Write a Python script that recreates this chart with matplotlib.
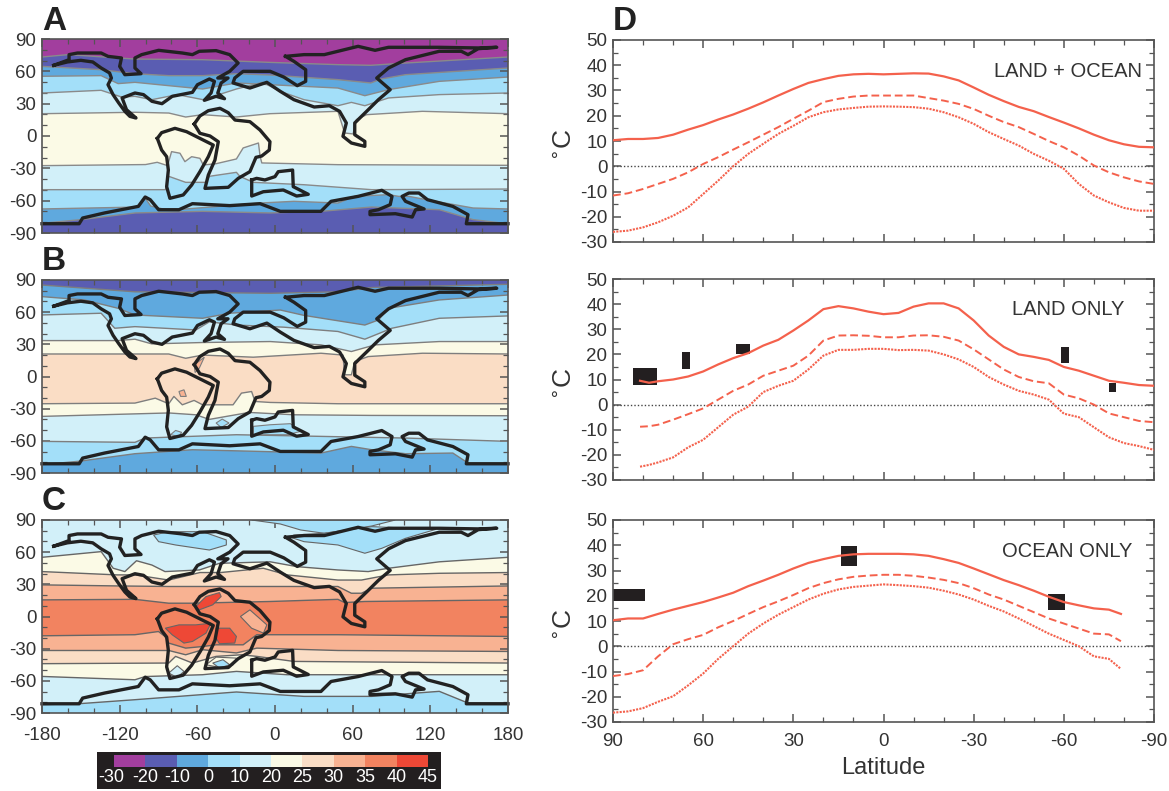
import matplotlib
matplotlib.use("Agg")
import matplotlib.pyplot as plt
from matplotlib.patches import Polygon, Rectangle
from matplotlib.ticker import MultipleLocator

plt.rcParams['font.family'] = ['Liberation Sans', 'DejaVu Sans']
plt.rcParams['axes.unicode_minus'] = False

W, H = 1169, 791

# band colours, same as the colour bar
purple = '#A23E9E'
indigo = '#5A5DB2'
blue = '#5FA9DE'
ltblue = '#A3DFF9'
pale = '#D2F0F9'
cream = '#FBFAE6'
peach = '#FADDC5'
salmon = '#F8B292'
orange = '#F28360'
red = '#EE4836'

bar_colors = [purple, indigo, blue, ltblue, pale, cream, peach, salmon, orange, red]
bar_labels = ['-30', '-20', '-10', '0', '10', '20', '25', '30', '35', '40', '45']

# coastlines (lon, lat)
coast_laurasia_w = [(-170.9, 65.6), (-160.4, 68.7), (-150, 70.2), (-140.8, 68.7), (-134.3, 63.1), (-127.8, 58.5),
                    (-126.4, 53.8), (-129, 47.6), (-125.1, 38.4), (-120.7, 30.6), (-116, 22.9), (-112.1, 18.2),
                    (-107.4, 16.7), (-114.7, 24.4), (-118.1, 35.3), (-108.2, 39.9), (-101.6, 38.4), (-95.1, 32.2),
                    (-87.3, 30), (-79.4, 36.8), (-63.8, 40.5), (-59.9, 47.6), (-50.7, 52.9), (-46.8, 50.7),
                    (-49.4, 39.9), (-54.6, 33.1), (-45.5, 36.8), (-39, 34.6), (-44.2, 39.9), (-41.6, 49.2),
                    (-36.3, 53.8), (-44.2, 53.8), (-35, 60), (-28.5, 67.7), (-35, 75.5), (-45.5, 79.2),
                    (-58.5, 78.6), (-63.8, 75.5), (-71.6, 77), (-89.9, 79.5), (-103, 75.5), (-108.2, 72.4),
                    (-108.2, 63.1), (-103.5, 57.8), (-116, 56.9), (-120, 64.6), (-118.6, 72.4), (-129, 73.9),
                    (-134.3, 77), (-152.6, 77), (-159.1, 75.5), (-159.1, 70.8), (-170.9, 65.6)]
coast_eurasia = [(8.1, 73.9), (14.6, 69.3), (23.7, 61.5), (23.7, 50.7), (17.2, 46.7), (6.8, 54.7), (-3.7, 60),
                 (-24.6, 60), (-31.1, 53.8), (-32.4, 49.2), (-19.4, 44.5), (-6.3, 49.8), (4.1, 41.4), (14.6, 33.7),
                 (30.3, 26.9), (42, 28.1), (49.9, 22.9), (55.1, 12.1), (52.5, -0.3), (59, -6.5), (69.4, -9.6),
                 (69.4, -5), (61.6, 1.2), (61.6, 12.1), (70.8, 22.9), (79.9, 33.7), (89, 43), (78.6, 53.8),
                 (87.7, 63.1), (100.8, 70.8), (126.9, 78.6), (143.9, 78.6), (149.1, 75.5), (157, 81), (171.3, 82.3),
                 (157, 81.7), (126.9, 82.3), (87.7, 82.3), (77.3, 79.5), (64.2, 83.2), (38.1, 75.5), (22.4, 75.5),
                 (8.1, 73.9)]
coast_samerica = [(-90.9, -2.2), (-87.6, 3.1), (-77.3, 7.1), (-68.3, 4), (-58, -2.2), (-47.7, -8.4), (-51.5, -19.2),
                  (-58, -33.1), (-64.4, -45.5), (-70.9, -54.7), (-81.2, -57.8), (-83.7, -47), (-82.4, -31.6),
                  (-83.7, -19.2), (-87.6, -13), (-90.9, -2.2)]
coast_africa = [(-62.4, 11.1), (-58, 18.6), (-51.5, 23.5), (-42.5, 25.7), (-36.1, 21.6), (-30.9, 14.8), (-19.4, 13.3),
                (-11.6, 5.6), (-3.9, -5.3), (-4.4, -13), (-10.3, -18.6), (-14.7, -19.8), (-19.4, -33.1), (-28.4, -39.3),
                (-36.1, -47.6), (-54.1, -48.6), (-51.5, -36.2), (-46.4, -22.3), (-43.8, -5.3), (-50.2, 0), (-58, 2.5),
                (-62.4, 11.1)]
coast_island = [(-18, -40.8), (-14.2, -39.3), (-7.8, -40.8), (0, -37.7), (2.5, -33.1), (13.6, -31.6), (14.1, -47),
                (25.7, -54.1), (16.7, -55.7), (6.4, -50.1), (-9, -51.7), (-18, -55.7), (-18, -40.8)]
coast_south = [(-180, -81.4), (-151.3, -81.4), (-148.6, -76.1), (-131.7, -71.4), (-105.6, -65.3), (-100.3, -56.6),
               (-96.4, -59.1), (-89.9, -68.4), (-74.2, -68.4), (-63.8, -62.8), (-35, -64.6), (-11.5, -62.8),
               (4.1, -69.9), (35.5, -69.9), (43.3, -60.6), (64.2, -56), (82.5, -50.4), (90.4, -56), (89, -63.7),
               (79.9, -68.4), (73.4, -69.9), (73.4, -73), (93, -72.1), (106, -75.2), (108.6, -68.4), (115.2, -67.7),
               (100.8, -60.6), (98.2, -56), (103.4, -52.9), (111.2, -52.9), (117.8, -59.1), (137.4, -65.3),
               (149.1, -73), (147.8, -81.4), (180, -81.4)]
coasts = [coast_laurasia_w, coast_eurasia, coast_samerica, coast_africa, coast_island, coast_south]

# panel A isotherms, south to north
a_c9 = [(-180, -81), (-150, -77.6), (-108, -71.4), (-56, -69.9), (-4, -71.4), (35.5, -69.9), (74.7, -65.9),
        (127, -68.4), (153, -77.6), (180, -81.4)]
a_c8 = [(-180, -67.7), (-105, -65.9), (-100.3, -57.5), (-96, -65), (-82.1, -69), (-11.5, -62.2), (14.6, -60.6),
        (48.6, -62.2), (61.6, -56), (87.7, -54.4), (95.5, -56), (103.4, -56), (116.5, -59), (153, -66.8), (180, -67.7)]
a_c7 = [(-180, -49.8), (-84.7, -49.8), (-82.1, -37.4), (-69, -43), (-53.3, -43), (-50.7, -37.4), (-29.8, -33.7),
        (-27.2, -37.4), (-16.8, -43), (22.4, -45.2), (74.7, -49.8), (180, -49.2)]
a_c6 = [(-180, -27.5), (-100, -26.5), (-91, -24.4), (-83, -27.5), (-79.9, -14.5), (-73.4, -16), (-69.6, -23.8),
        (-64.4, -19.2), (-58, -20.7), (-55.4, -26.9), (-45.5, -25.7), (-29.8, -21.3), (-24.6, -11.1), (-12.8, -6.5),
        (-11.5, -18.9), (-10.2, -25), (48.6, -26.6), (180, -27.2)]
a_c5 = [(-180, 20.7), (-108, 22), (-82, 21.3), (-69, 17.6), (-56, 19.8), (-30, 17.6), (-4, 20.7), (48.6, 22.9),
        (53.8, 2.8), (60.3, 1.9), (62.9, 15.2), (70.8, 19.8), (113.9, 22.9), (180, 20.7)]
a_c4 = [(-180, 39.9), (-134.3, 42.4), (-118.6, 36.2), (-108.2, 36.8), (-95.1, 33.7), (-75.5, 38.4), (-55.6, 33.7),
        (-29.8, 43.6), (-9.6, 49.8), (4.1, 41.4), (22.4, 33.7), (48.6, 28.1), (59, 31.2), (69.4, 28.1), (87.7, 35.3),
        (126.9, 38.4), (180, 39.9)]
a_c3 = [(-180, 55.4), (-134.3, 56), (-121.2, 48.6), (-108.2, 49.8), (-82.1, 46.7), (-55.9, 43.6), (-29.8, 49.2),
        (-3.7, 47.6), (48.6, 44.5), (69.4, 37.4), (87.7, 43), (126.9, 50.7), (180, 54.7)]
a_c2 = [(-180, 64.6), (-134.3, 61.5), (-108.2, 57.8), (-82.1, 56), (-55.9, 56), (-29.8, 57.8), (-3.7, 56.6),
        (48.6, 52.3), (74, 49.2), (82, 52.9), (100.8, 56.9), (180, 63.1)]
a_c1 = [(-180, 73.3), (-160, 75.5), (-108.2, 71.4), (-55.9, 70.8), (-3.7, 68.3), (48.6, 66.2), (74, 65.6),
        (100.8, 67.7), (180, 73.3)]

# panel B isotherms
b_c9 = [(-180, -82.2), (-151, -79), (-108.2, -72), (-63.8, -68.3), (-14, -69.8), (35.5, -71.4), (59, -65.2),
        (74.7, -68.3), (100.8, -72), (137.4, -71.4), (149.1, -80.7), (180, -81)]
b_c8 = [(-180, -60.5), (-108.2, -61.4), (-100.3, -57.4), (-29.8, -54.3), (38, -55.9), (100.8, -57.4), (180, -60.5)]
b_c7 = [(-180, -37.2), (-82.1, -34), (-61.2, -35.7), (-50.7, -40), (-20, -33.5), (14.6, -35.7), (74.7, -36.3),
        (180, -36.6)]
b_c6 = [(-180, -25.4), (-108.2, -24.8), (-92.5, -20.2), (-82.1, -25.4), (-78.1, -18.6), (-71.6, -26.4), (-62.5, -22.3),
        (-55.9, -26.4), (-32.4, -26.4), (-25.9, -15.5), (-18.1, -14), (-15.4, -23.3), (-3.7, -24.2), (48.6, -25.4),
        (180, -25.4)]
b_c5 = [(-180, 21), (-108.2, 21), (-82.1, 21), (-69, 17), (-55.9, 20), (-16.8, 18), (35.5, 21.7), (52.5, 20),
        (53.8, 1.6), (59, 1.6), (61.6, 14), (72, 18.6), (113.9, 21.7), (180, 21)]
b_c4 = [(-180, 33.5), (-121.2, 33.5), (-108.2, 34.8), (-95.1, 30.4), (-55.9, 31.7), (-3.7, 32.6), (35.5, 29.5),
        (59, 23.3), (77.3, 29.5), (126.9, 32.6), (180, 32.6)]
b_c3 = [(-180, 57.4), (-134.3, 59), (-123.8, 45), (-108.2, 46.5), (-61.2, 43.4), (-50.7, 51), (-29.8, 48), (6.8, 46),
        (48.6, 42), (69.4, 34.8), (90.3, 45), (126.9, 54.3), (180, 56.5)]
b_c2 = [(-180, 74.5), (-147.4, 71.4), (-121.2, 63.6), (-108.2, 57.4), (-55.9, 54.3), (-35, 59), (4.1, 62), (22.4, 57),
        (69.4, 48), (79.9, 52.7), (87.7, 63.6), (126.9, 71.4), (180, 76)]
b_c1 = [(-180, 85.3), (-108.2, 79), (-3.7, 77.6), (48.6, 79), (74.7, 83), (180, 86)]

# panel C isotherms
c_c9 = [(-180, -82.2), (-151, -81.3), (-108.2, -77.6), (-29.8, -70.4), (22.4, -74.5), (74.7, -74.5), (126.9, -69.8),
        (149.1, -80.7), (180, -81)]
c_c8 = [(-180, -55.9), (-108.2, -59), (-100.3, -56), (-55.9, -54.3), (-29.8, -51.2), (9.4, -54.3), (180, -54.3)]
c_c7 = [(-180, -44), (-82.1, -43.4), (-76.8, -37.2), (-63.8, -43.4), (-45.5, -37.2), (-25.9, -35.7), (-14.1, -37.2),
        (14.6, -41.9), (180, -43.4)]
c_c6 = [(-180, -31.7), (-82.1, -31.7), (-69, -35.7), (-55.9, -31), (-29.8, -34), (-14.1, -29.5), (48.6, -31.7),
        (180, -32.6)]
c_c5 = [(-180, -18), (-108.2, -17), (-90, -14), (-85, -18.6), (-82.1, -24.8), (-69, -29.5), (-55.9, -28),
        (-45.5, -26.4), (-24.6, -26.4), (-14.1, -17), (48.6, -17), (180, -18.6)]
c_c4 = [(-180, 15.5), (-108.2, 16), (-82.1, 12.4), (-63.8, 12.4), (-3.7, 14), (48.6, 16), (53.8, 13), (69.4, 14),
        (180, 15.5)]
c_c3 = [(-180, 29.5), (-121.2, 28.5), (-82.1, 28), (48.6, 28), (59, 21.7), (66.8, 21.7), (74.7, 26.4), (180, 28.5)]
c_c2 = [(-180, 41.9), (-122, 38.8), (-108.2, 38.8), (-82.1, 34), (-58, 41), (-42, 41), (-9, 45), (9.4, 38.8),
        (48.6, 34), (66.8, 34), (87.7, 38.8), (126.9, 40.3), (180, 41)]
c_c1 = [(-180, 55.2), (-134.3, 60.5), (-125, 45), (-116, 41.9), (-107, 52), (-95.1, 48), (-85, 41.9), (-58.5, 43.4),
        (-42.9, 49.6), (-3.7, 51), (17, 46.5), (48.6, 43.4), (72, 41.9), (87.7, 45), (126.9, 51), (180, 55.2)]

a_contours = [a_c9, a_c8, a_c7, a_c6, a_c5, a_c4, a_c3, a_c2, a_c1]
a_colors = [indigo, blue, ltblue, pale, cream, pale, ltblue, blue, indigo, purple]
b_contours = [b_c9, b_c8, b_c7, b_c6, b_c5, b_c4, b_c3, b_c2, b_c1]
b_colors = [blue, ltblue, pale, cream, peach, cream, pale, ltblue, blue, indigo]
c_contours = [c_c9, c_c8, c_c7, c_c6, c_c5, c_c4, c_c3, c_c2, c_c1]
c_colors = [ltblue, pale, cream, peach, salmon, orange, salmon, peach, cream, pale]

# closed pockets
b_pockets = [
    (salmon, [(-62.5, 10.9), (-54.6, 18), (-58.5, 7.8), (-61.7, 3.7)]),
    (salmon, [(-74.2, -14), (-70.3, -12.4), (-68.5, -18.6), (-72.9, -18.6)]),
    (ltblue, [(-45.5, -43.4), (-40.8, -39.7), (-35.5, -43.4), (-41.6, -47.5)]),
    (ltblue, [(-80.7, -54.3), (-76.8, -50.3), (-72.1, -52.1), (-74.2, -55.9)]),
    (ltblue, [(-16.7, -46.5), (-3.7, -45), (11.9, -44), (19.8, -51.2), (9.4, -54.3), (-16.7, -54.3)]),
]
c_pockets = [
    (ltblue, [(-18.1, 90), (4.1, 86.3), (19.8, 80.7), (38.1, 77.6), (74.7, 84.4), (92.9, 90)]),
    (ltblue, [(12, 73.9), (22.4, 69.8), (48.6, 66.7), (69.4, 59), (82.5, 63.6), (100.8, 72.9), (124.3, 81.3),
              (74.7, 83.8), (38.1, 77.6), (14.6, 76)]),
    (ltblue, [(-93.8, 76), (-82.1, 79.1), (-55.9, 79.1), (-37.6, 71.4), (-37.6, 66.7), (-50.7, 62), (-76.8, 66.7),
              (-89.9, 69.8)]),
    (red, [(-84.7, -10.9), (-74.2, -7.8), (-61.2, -7.8), (-49.4, -6.2), (-53.3, -15.5), (-63.8, -23.3), (-70.3, -24.8),
           (-79.4, -17.1)]),
    (red, [(-61.2, 9.3), (-53.3, 18.6), (-42.9, 22.3), (-41.6, 18.6), (-48.1, 10.9), (-58.5, 6.2)]),
    (red, [(-45.5, -10.9), (-35, -10.9), (-29.8, -18.6), (-31.1, -24.8), (-42.9, -25.4), (-45.5, -20.2)]),
    (salmon, [(-26.7, 0), (-19.4, 6.2), (-6.3, -7.8), (-8.9, -15.5), (-18.1, -10.9)]),
    (cream, [(-53.3, -45), (-45.5, -37.9), (-29.8, -38.8), (-32.4, -45), (-40.2, -48.1)]),
    (ltblue, [(-48.1, -43.4), (-40.2, -40.3), (-35, -45), (-42.9, -48.1)]),
    (pale, [(-82.1, -52.8), (-75.5, -45.9), (-70.3, -51.2), (-75.5, -56.8)]),
]

# zonal temperature curves
lat_all = [90, 85, 80, 75, 70, 65, 60, 55, 50, 45, 40, 35, 30, 25, 20, 15, 10, 5, 0, -5, -10, -15, -20, -25, -30,
           -35, -40, -45, -50, -55, -60, -65, -70, -75, -80, -85, -90]
both_max = [10.3, 10.8, 10.8, 11.2, 12.5, 14.5, 16.3, 18.5, 20.5, 22.8, 25.3, 28, 30.6, 33, 34.5, 35.8, 36.4, 36.6,
            36.4, 36.6, 36.8, 36.7, 35.6, 34, 31.2, 28.3, 25.8, 23.5, 21.8, 19.5, 17.3, 15, 12.5, 10.3, 8.7, 7.7, 7.5]
both_mean = [-11.6, -10.7, -9, -7, -5, -2.4, 0.9, 3.6, 6.6, 9.5, 12.5, 15.5, 18.8, 22, 25.4, 26.7, 27.6, 28, 28, 28,
             28, 27, 26, 24.7, 22.7, 20, 17.5, 15.5, 12.8, 10, 7.5, 4.2, 0.3, -2.4, -4.4, -6, -7]
both_min = [-26, -25.5, -24.2, -22.2, -19.6, -16.3, -11, -5.7, 0, 4.9, 8.9, 12.8, 16, 19.4, 21.4, 22.5, 23.1, 23.6,
            23.7, 23.6, 23.4, 22.8, 21.4, 19.4, 16.8, 13.5, 10.8, 8.2, 4.9, 2.2, -1, -7, -11.6, -14.3, -16.5, -17.6,
            -17.6]

lat_land = [81, 78, 75, 70, 65, 60, 55, 50, 45, 40, 35, 30, 25, 20, 15, 10, 5, 0, -5, -10, -15, -20, -25, -30, -35,
            -40, -45, -50, -55, -60, -65, -70, -75, -80, -85, -90]
land_max = [9.5, 8.7, 9.3, 10, 11.2, 13.2, 16, 18.5, 20.5, 23.5, 25.8, 29.5, 33.5, 38, 39.2, 38.3, 37, 36, 36.5, 39,
            40.3, 40.3, 38.3, 33.5, 27.5, 23, 20, 19, 17.8, 15, 13.5, 11.5, 9.5, 8.7, 7.8, 7.5]
land_mean = [-8.8, -8.6, -8, -6, -3.8, -1.5, 2, 5.5, 8, 11.5, 13.5, 15.5, 19.5, 25.5, 27.5, 27.6, 27.4, 26.8, 26.8,
             27.5, 27.6, 27, 25.5, 22, 18, 14, 11, 9.3, 8.5, 4, 2.5, 0, -3.5, -5, -6.5, -7]
land_min = [-24.7, -24, -23, -21, -17, -14, -9, -4, -0.8, 5, 7.5, 9.5, 14, 19.5, 21.8, 21.8, 22.2, 22.2, 21.7, 21.8,
            21.5, 20, 18, 15, 11, 8, 5.5, 4, 2, -3.6, -5, -9, -13, -15.3, -16.5, -18]

lat_ocean = [90, 85, 80, 75, 70, 65, 60, 55, 50, 45, 40, 35, 30, 25, 20, 15, 10, 5, 0, -5, -10, -15, -20, -25, -30,
             -35, -40, -45, -50, -55, -60, -65, -70, -75, -79]
ocean_max = [10.3, 11, 11, 12.8, 14.5, 16, 17.5, 19.3, 21.2, 23.8, 26, 28.3, 30.8, 33, 34.5, 35.8, 36.4, 36.6, 36.6,
             36.6, 36.4, 35.8, 34.5, 33, 30.8, 28.5, 26.2, 24.2, 22, 19.6, 17.5, 16.2, 15, 14.5, 12.8]
ocean_mean = [-11.8, -11, -9.5, -4, 0.8, 2.8, 4.5, 7.5, 10, 12.8, 15.5, 17.8, 20.3, 23, 25, 26.5, 27.5, 28, 28.3, 28.3,
              27.9, 27.2, 26.3, 25, 23, 20.5, 18.5, 16, 13.5, 11, 9, 7, 5, 4.7, 2]
ocean_min = [-26.3, -25.8, -24.5, -22, -19.8, -15.5, -10.8, -5, 0, 5, 9, 12.5, 15.5, 18.5, 20.8, 22.5, 23.5, 24, 24.5,
             24.2, 23.8, 23.2, 22, 20.5, 18.5, 16, 13.8, 11, 8, 5, 2.5, 0, -4, -5, -9]

# proxy boxes: lat north, lat south, temp low, temp high
land_boxes = [(83.4, 75.2, 8, 14.7), (66.9, 64.4, 14, 21), (49.2, 44.4, 20.3, 24), (-59.2, -61.8, 16.4, 22.8),
              (-75, -77.4, 5, 8.8)]
ocean_boxes = [(90, 79.4, 18, 22.6), (14, 8.7, 31.9, 39.9), (-54.6, -60.5, 14.3, 20.7)]

line_red = '#F4614C'
frame_col = '#555555'
text_col = '#333333'


def px_axes(x0, y0, x1, y1):
    return plt.axes([x0 / W, 1 - y1 / H, (x1 - x0) / W, (y1 - y0) / H])


def style_frame(ax, labelsize=13.5):
    for s in ax.spines.values():
        s.set_color(frame_col)
        s.set_linewidth(1.2)
    ax.tick_params(which='both', direction='in', top=True, right=True, color=frame_col, labelcolor=text_col)
    ax.tick_params(which='major', length=6, width=1.1, labelsize=labelsize, pad=4)
    ax.tick_params(which='minor', length=3.5, width=0.9)


def draw_map(ax, contours, colors, pockets, edge, show_x):
    ax.set_xlim(-180, 180)
    ax.set_ylim(-90, 90)
    ax.set_facecolor(colors[0])
    for c, col in zip(contours, colors[1:]):
        ax.add_patch(Polygon(c + [(180, 91), (-180, 91)], closed=True, fc=col, ec='none', zorder=1))
    for c in contours:
        ax.plot([p[0] for p in c], [p[1] for p in c], color=edge, lw=1.0, zorder=2)
    for col, pts in pockets:
        ax.add_patch(Polygon(pts, closed=True, fc=col, ec=edge, lw=0.8, zorder=2.5))
    for coast in coasts:
        ax.plot([p[0] for p in coast], [p[1] for p in coast], color='#222222', lw=2.4, zorder=3,
                solid_joinstyle='round', clip_on=False)
    ax.set_xticks(range(-180, 181, 60))
    ax.xaxis.set_minor_locator(MultipleLocator(20))
    ax.set_yticks(range(-90, 91, 30))
    ax.yaxis.set_minor_locator(MultipleLocator(10))
    style_frame(ax)
    for s in ax.spines.values():
        s.set_zorder(4)
    ax.tick_params(which='both', zorder=4)
    ax.tick_params(axis='x', which='major', pad=10)
    if not show_x:
        ax.tick_params(axis='x', labelbottom=False)


def draw_curves(ax, lat, t_max, t_mean, t_min, boxes, label, label_x, show_x):
    ax.set_xlim(90, -90)
    ax.set_ylim(-30, 50)
    ax.axhline(0, color='#444444', lw=1.0, ls=(0, (1, 1.5)), zorder=1)
    for lat_n, lat_s, t_lo, t_hi in boxes:
        ax.add_patch(Rectangle((lat_s, t_lo), lat_n - lat_s, t_hi - t_lo, fc='#231F20', ec='none', zorder=2, clip_on=False))
    ax.plot(lat, t_max, color=line_red, lw=1.6, zorder=3)
    ax.plot(lat, t_mean, color=line_red, lw=1.4, ls=(0, (4, 2)), zorder=3)
    ax.plot(lat, t_min, color=line_red, lw=1.5, ls=(0, (1, 0.6)), zorder=3)
    ax.set_xticks(range(-90, 91, 30))
    ax.xaxis.set_minor_locator(MultipleLocator(10))
    ax.set_yticks(range(-30, 51, 10))
    ax.yaxis.set_minor_locator(MultipleLocator(5))
    style_frame(ax)
    ax.tick_params(axis='x', which='major', pad=8)
    ax.set_ylabel('$^{\\circ}$C', fontsize=19, color=text_col)
    ax.yaxis.set_label_coords(-0.066, 0.48)
    ax.text(label_x, 37.7, label, fontsize=14.5, color=text_col, ha='right', va='center', zorder=5)
    if not show_x:
        ax.tick_params(axis='x', labelbottom=False)


fig = plt.figure(figsize=(W / 100, H / 100), dpi=100)

ax_a = px_axes(42, 39, 508, 233)
draw_map(ax_a, a_contours, a_colors, [], '#8A8A8A', False)
ax_b = px_axes(42, 280, 508, 473)
draw_map(ax_b, b_contours, b_colors, b_pockets, '#7E7E7E', False)
ax_c = px_axes(42, 520, 508, 713)
draw_map(ax_c, c_contours, c_colors, c_pockets, '#666666', True)

ax_d1 = px_axes(613, 40, 1154, 242)
draw_curves(ax_d1, lat_all, both_max, both_mean, both_min, [], 'LAND + OCEAN', -86, False)
ax_d2 = px_axes(613, 279, 1154, 480)
draw_curves(ax_d2, lat_land, land_max, land_mean, land_min, land_boxes, 'LAND ONLY', -80.3, False)
ax_d3 = px_axes(613, 520, 1154, 722)
draw_curves(ax_d3, lat_ocean, ocean_max, ocean_mean, ocean_min, ocean_boxes, 'OCEAN ONLY', -82.7, True)
ax_d3.set_xlabel('Latitude', fontsize=17, color=text_col, labelpad=5)

# colour bar
ax_bar = px_axes(97, 752, 441, 789)
ax_bar.set_xlim(97, 441)
ax_bar.set_ylim(789, 752)
ax_bar.set_facecolor('#231F20')
ax_bar.set_xticks([])
ax_bar.set_yticks([])
for s in ax_bar.spines.values():
    s.set_visible(False)
cell_w = (428 - 114) / len(bar_colors)
for i, col in enumerate(bar_colors):
    ax_bar.add_patch(Rectangle((114 + i * cell_w, 755), cell_w, 12, fc=col, ec='none'))
for i, lab in enumerate(bar_labels):
    ax_bar.text(114 + i * cell_w - (3 if i == 0 else 0), 778, lab, color='white', fontsize=13, ha='center', va='center')

# panel letters
for letter, x, y in [('A', 42, 21), ('B', 42, 262), ('C', 42, 502), ('D', 613, 21)]:
    fig.text(x / W, 1 - y / H, letter, fontsize=24, fontweight='bold', color='#222222', ha='left', va='center')

plt.savefig('out.png', dpi=100)
